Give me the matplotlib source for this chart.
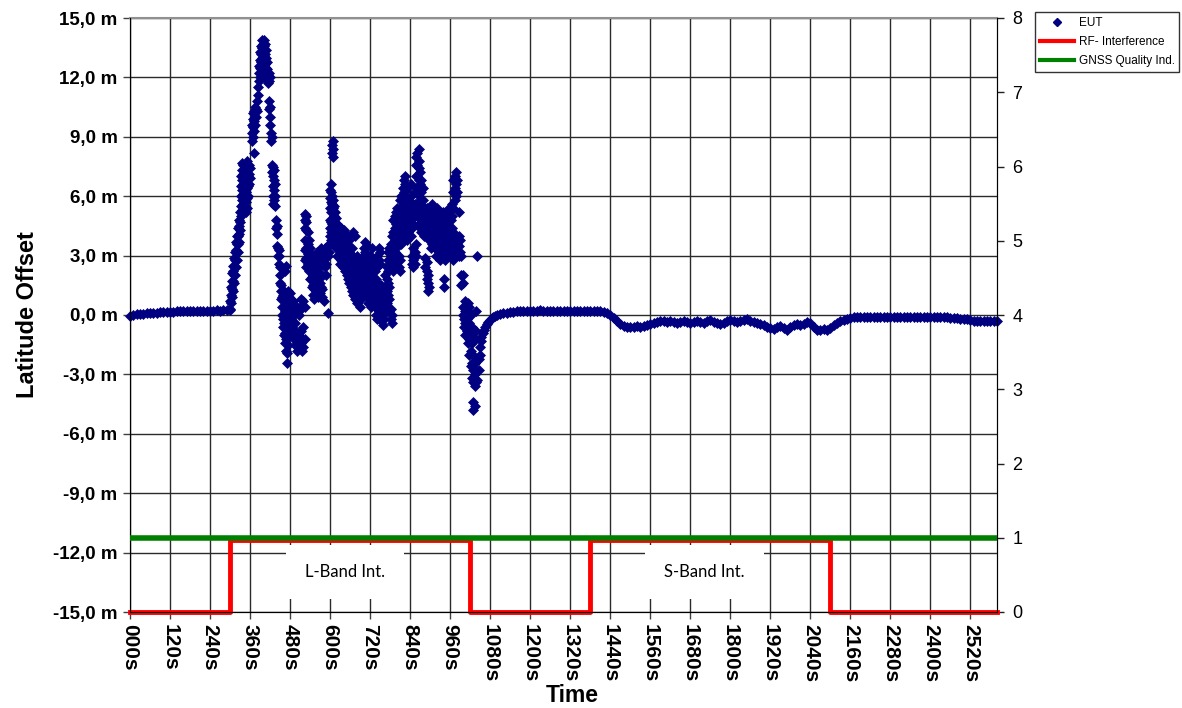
import matplotlib
matplotlib.use("Agg")
import matplotlib.pyplot as plt  # noqa: E402
from matplotlib.lines import Line2D  # noqa: E402

plt.rcParams["font.family"] = ["Liberation Sans", "DejaVu Sans"]

# ---- data ----
# quiet part before the interference (10 s sampling)
pre_time = list(range(0, 301, 10))
pre_lat = [-0.05, 0.0, 0.03, 0.05, 0.07, 0.08, 0.1, 0.1, 0.12, 0.13, 0.15,
           0.15, 0.17, 0.17, 0.18, 0.2, 0.2, 0.2, 0.22, 0.2, 0.22, 0.22,
           0.2, 0.22, 0.22, 0.22, 0.24, 0.22, 0.24, 0.24, 0.25]

# disturbed part: one list of latitude offsets per time stamp
chaos_time = [300, 303, 306, 309, 312, 315, 318, 321, 324, 327, 330, 333, 336,
              339, 342, 345, 348, 351, 354, 357, 360, 366, 369, 372, 375, 378,
              381, 384, 387, 390, 393, 396, 399, 402, 405, 408, 411, 414, 417,
              420, 423, 426, 429, 432, 435, 438, 441, 444, 447, 450, 453, 456,
              459, 462, 465, 468, 471, 474, 477, 480, 484, 488, 492, 496, 500,
              504, 508, 512, 516, 520, 524,
              525, 529, 533, 537, 541, 545, 549, 553, 557, 561, 565, 569, 573,
              577, 581, 585, 589, 593, 597,
              601, 604, 607, 610, 613, 616, 619, 622, 626, 630, 634, 638, 642,
              646, 650, 654, 658, 662, 666, 670, 674, 678, 682, 686, 690, 694,
              698, 702, 706, 710, 714, 718, 722, 726, 730, 734, 738, 742, 746,
              750, 754, 758, 762, 766, 770, 774, 778, 782, 786, 790, 794,
              798, 802, 806, 810, 814, 818, 822, 826, 830, 834, 838, 842, 846,
              850, 854, 858, 862, 866, 870, 874, 878, 882, 886, 890, 894, 898,
              902, 906, 910, 914, 918, 922, 926, 930, 934, 938, 942, 946, 950,
              954, 958, 962, 966, 970, 974, 978, 982, 986, 990, 994, 998,
              1002, 1006, 1010, 1014, 1018, 1022, 1026, 1030, 1034, 1038, 1042,
              1046, 1050, 1054, 1058, 1062, 1066, 1070, 1075, 1080, 1085, 1090,
              1095]
chaos_lat = [
    [0.3, 0.7], [0.6, 1.0, 1.4], [0.9, 1.3, 1.7, 2.1], [1.2, 1.7, 2.2, 2.5],
    [1.6, 2.0, 2.5, 2.9], [2.0, 2.4, 2.8, 3.2], [2.4, 2.8, 3.3, 3.7],
    [2.8, 3.2, 3.6, 4.0], [3.2, 3.6, 4.0, 4.4], [3.7, 4.1, 4.5, 4.8],
    [4.3, 4.7, 5.2], [5.0, 5.5, 6.0, 6.5, 7.0], [5.3, 5.8, 6.3, 6.8, 7.3, 7.7],
    [5.6, 6.1, 6.6, 7.1, 7.6], [5.8, 6.3, 6.8, 7.3], [5.5, 5.9, 6.4, 6.9],
    [5.2, 5.7, 6.2, 6.7, 7.2], [5.4, 5.9, 6.4, 6.9, 7.4, 7.8],
    [6.0, 6.5, 7.0, 7.5], [6.6, 7.1, 7.6], [6.9, 7.4],
    [8.8, 9.2, 9.6], [9.0, 9.5, 9.9, 10.2], [8.2, 9.3, 9.8, 10.3],
    [9.6, 10.0, 10.5], [10.0, 10.4], [10.3, 10.8], [11.1, 11.5],
    [11.8, 12.2, 12.6], [12.0, 12.5, 12.9, 13.3], [12.4, 12.8, 13.2, 13.6],
    [12.6, 13.0, 13.5, 13.9], [12.3, 12.8, 13.3, 13.7],
    [12.0, 12.6, 13.1, 13.6, 13.9], [12.2, 12.7, 13.2, 13.7],
    [12.5, 13.0, 13.4], [11.9, 12.4, 12.8], [11.7, 12.1],
    [11.8, 12.2, 10.8, 10.4], [12.0, 10.5, 10.0, 9.6], [9.2, 8.8],
    [7.6, 7.2, 9.0], [5.6, 6.0, 6.5, 7.0, 7.5], [5.8, 6.3, 6.8, 7.3],
    [5.5, 6.0, 6.6], [4.4, 4.8], [4.1, 4.5, 3.5], [3.0, 3.4], [2.6, 3.0, 3.3],
    [1.6, 2.0, 2.4], [0.8, 1.2, 1.5], [0.0, 0.4, 0.9], [-0.6, -0.2, 1.0],
    [-1.0, -0.4, 0.4, 1.2], [-1.4, -0.9, 0.2, 0.8, 2.2],
    [-1.8, -1.2, -0.3, 0.5, 2.5], [-2.4, -1.9, -0.6, 0.3, 1.0],
    [-1.5, -1.0, 0.0, 0.7, 1.2], [-0.8, -0.4, 0.2, 0.9], [-0.6, 0.0, 0.6, 1.1],
    [-0.2, 0.4, 0.8], [-0.9, -0.4, 0.2, 0.7], [-1.2, -0.7, 0.0, 0.5],
    [-1.5, -1.0, -0.4, 0.3], [-1.8, -1.3, 0.4], [-1.6, -1.1, 0.2], [-1.0, 0.0],
    [-1.4, -0.8, 0.3, 0.8], [-1.8, -1.2, 0.5], [-1.6, -0.6, 0.7], [-1.2, 0.4],
    [2.8, 3.3, 3.8, 4.4, 4.8, 5.1], [2.4, 2.9, 3.4, 4.3, 4.7, 5.0],
    [2.6, 3.1, 3.6, 4.2], [2.2, 2.7, 3.2, 3.8], [1.8, 2.3, 2.8, 3.4],
    [1.4, 1.9, 2.4, 3.0], [1.0, 1.5, 2.0, 2.6], [0.8, 1.3, 1.8, 2.2],
    [1.0, 1.5, 2.0, 2.4, 2.9], [1.2, 1.7, 2.3, 2.8, 3.2],
    [0.9, 1.4, 1.9, 2.6, 3.0], [1.1, 1.6, 2.1], [1.4, 1.9, 3.0, 3.4],
    [0.9, 1.3, 2.8, 3.2], [0.7, 2.6, 3.0], [2.4, 2.9, 3.4], [2.0, 2.6],
    [0.1, 3.0, 3.5], [3.2, 3.6],
    [4.0, 4.4, 4.8, 5.4, 5.9, 6.3], [3.8, 4.2, 4.7, 5.2, 5.7, 6.2, 6.6],
    [4.0, 4.6, 5.6, 6.0, 8.2, 8.6], [4.4, 4.9, 5.4, 5.8, 8.0, 8.4, 8.8],
    [3.8, 4.3, 5.0, 5.5], [3.6, 4.0, 4.6, 5.2], [3.4, 3.9, 4.4, 4.9],
    [3.0, 3.5, 4.2, 4.6], [3.0, 3.6, 4.1, 4.5], [2.6, 3.1, 3.7, 4.2],
    [2.8, 3.4, 3.9, 4.4], [2.4, 3.0, 3.5, 4.0], [2.6, 3.2, 3.8, 4.3],
    [2.2, 2.8, 3.4, 3.9], [2.0, 2.6, 3.2, 3.6], [1.8, 2.3, 2.9, 3.4, 4.0],
    [1.6, 2.2, 2.7, 3.2, 3.8], [1.4, 2.0, 2.5, 3.0], [1.2, 1.8, 2.3, 2.8, 3.4],
    [1.0, 1.6, 2.2, 3.0, 4.2], [0.8, 1.4, 2.0, 2.6, 4.0], [1.0, 1.6, 2.2, 2.8],
    [0.6, 1.2, 1.8, 2.4, 3.0], [0.8, 1.4, 2.0, 2.6], [0.4, 1.0, 1.6, 2.2],
    [0.8, 1.3, 1.9, 2.5], [1.2, 1.8, 2.4, 3.0], [1.6, 2.2, 2.8, 3.4],
    [1.4, 2.0, 2.6, 3.2, 3.7], [1.0, 1.6, 2.2, 2.8, 3.5],
    [0.6, 1.2, 1.8, 2.4, 3.0], [0.8, 1.4, 2.0, 2.6], [0.4, 1.0, 1.6, 2.2, 3.0],
    [0.6, 1.2, 1.8, 2.4, 3.4], [1.0, 1.6, 2.2, 2.8], [0.4, 1.0, 1.6, 2.2],
    [0.0, 0.6, 1.2, 1.8, 2.6], [-0.2, 0.4, 1.0, 1.6, 2.4, 3.0],
    [0.2, 0.8, 1.4, 2.8, 3.4], [0.0, 0.6, 1.2, 2.6, 3.2],
    [-0.3, 0.3, 0.9, 1.5], [-0.5, 0.0, 0.6, 1.2], [-0.2, 0.4, 1.0],
    [0.2, 0.8, 1.4, 2.0], [0.6, 1.2, 1.8, 2.4], [1.0, 1.6, 2.2, 2.8, 3.2],
    [0.2, 0.8, 1.4, 2.6, 3.4], [-0.2, 0.3, 2.4, 3.0, 3.6],
    [-0.4, 0.0, 2.8, 3.4, 4.0], [2.2, 2.8, 3.6, 4.2, 4.8],
    [2.6, 3.2, 3.8, 4.4, 5.0],
    [2.8, 3.4, 4.0, 4.6, 5.2], [3.0, 3.6, 4.2, 4.8, 5.4],
    [2.4, 3.0, 3.8, 4.4, 5.0], [2.2, 2.8, 4.0, 4.6, 5.2, 5.8],
    [3.6, 4.2, 4.8, 5.4, 6.0], [4.0, 4.6, 5.2, 5.8, 6.4],
    [4.4, 5.0, 5.6, 6.2, 6.8], [4.2, 4.8, 5.4, 6.0, 6.6, 7.0],
    [3.8, 4.4, 5.0, 5.6], [4.2, 4.8, 5.4, 6.4], [4.6, 5.2, 5.8],
    [4.0, 4.6, 5.2, 6.0, 6.6], [2.6, 3.0, 4.4, 5.0, 5.6],
    [2.4, 2.8, 3.4, 4.6, 5.2], [2.6, 3.2, 5.0, 5.6, 6.2],
    [3.0, 3.6, 5.4, 6.2, 7.0, 7.6, 8.0], [5.0, 5.6, 6.4, 7.0, 7.6, 8.2],
    [4.6, 5.2, 6.0, 6.8, 7.4, 7.8, 8.4], [4.4, 5.0, 5.8, 6.6, 7.2],
    [4.2, 4.8, 5.4, 6.2, 6.8], [4.6, 5.2, 5.8, 6.4], [4.0, 4.6, 5.2],
    [2.4, 2.9, 4.4, 5.0, 5.4], [1.8, 2.2, 2.7, 4.8, 5.4],
    [1.2, 1.6, 2.0, 4.2, 4.8, 5.2], [1.4, 3.8, 4.4, 5.0],
    [3.4, 4.0, 4.6, 5.4], [3.6, 4.2, 4.8, 5.6], [4.0, 4.6, 5.2],
    [3.4, 3.9, 4.4, 5.0], [3.0, 3.6, 4.2, 4.8], [3.6, 4.2, 4.8, 5.4],
    [3.2, 3.8, 4.4, 5.0], [2.8, 3.4, 4.0, 4.6], [3.0, 3.6, 4.2, 5.0],
    [3.4, 4.0, 4.6, 5.2], [1.4, 1.8, 3.2, 3.8, 4.4], [2.8, 3.4, 4.0, 4.8],
    [3.0, 3.6, 4.2, 5.0], [3.2, 3.8, 4.4, 5.2], [3.6, 4.2, 4.8, 5.4],
    [3.0, 3.6, 4.2, 4.8], [3.2, 3.8, 4.4, 5.0, 5.6],
    [2.8, 3.4, 4.2, 5.4, 6.2, 6.8], [3.0, 3.6, 4.0, 5.8, 6.4, 7.0],
    [3.0, 3.4, 6.0, 6.6, 7.2], [3.2, 3.6, 6.2, 6.8], [3.0, 3.5, 4.0, 5.2],
    [3.2, 3.8], [1.5, 2.0, 3.0], [1.6, 2.0, 0.4, 0.0],
    [-0.6, -0.2, 0.4], [-1.0, -0.4, 0.2, 0.7], [-0.8, -0.2],
    [-1.4, -0.8, 0.2, 0.6], [-2.0, -1.2, -0.4, 0.4], [-2.6, -1.8, -1.0, 0.0],
    [-3.2, -2.4, -1.4, -0.6], [-4.8, -4.4, -3.4, -2.8, -2.0],
    [-4.6, -3.6, -3.0, -2.4, -1.2], [-3.4, -2.8, -0.8, 0.2],
    [-3.3, -2.2, 3.0], [-2.8, -2.2], [-2.0, -1.6], [-1.3, -1.1], [-0.9],
    [-0.75], [-0.6], [-0.45], [-0.35], [-0.25], [-0.15], [-0.1], [-0.05],
]

# settled part after the L-band interference (10 s sampling)
post_time = list(range(1100, 2601, 10))
post_lat = [0.0, 0.05, 0.1, 0.12, 0.15, 0.17, 0.18, 0.2, 0.2, 0.22,
            0.22, 0.2, 0.22, 0.24, 0.22, 0.2, 0.22, 0.22, 0.2, 0.2,
            0.22, 0.2, 0.22, 0.2, 0.18, 0.2, 0.22, 0.2, 0.2, 0.18,
            0.2, 0.18, 0.15, 0.1, 0.0, -0.15, -0.3, -0.45, -0.55, -0.6,
            -0.6, -0.6, -0.55, -0.6, -0.55, -0.5, -0.45, -0.4, -0.35, -0.3,
            -0.3, -0.35, -0.3, -0.35, -0.4, -0.35, -0.3, -0.35, -0.4, -0.35,
            -0.3, -0.35, -0.4, -0.3, -0.25, -0.35, -0.4, -0.45, -0.4, -0.3,
            -0.25, -0.3, -0.35, -0.3, -0.25, -0.2, -0.3, -0.35, -0.4, -0.45,
            -0.5, -0.6, -0.65, -0.7, -0.6, -0.55, -0.65, -0.75, -0.6, -0.5,
            -0.45, -0.5, -0.45, -0.35, -0.4, -0.6, -0.75, -0.75, -0.7, -0.75,
            -0.65, -0.5, -0.4, -0.3, -0.25, -0.2, -0.15, -0.12, -0.12, -0.12,
            -0.12, -0.12, -0.12, -0.12, -0.12, -0.12, -0.12, -0.12, -0.12, -0.12,
            -0.12, -0.12, -0.12, -0.12, -0.12, -0.12, -0.12, -0.12, -0.12, -0.12,
            -0.12, -0.12, -0.12, -0.12, -0.12, -0.12, -0.14, -0.15, -0.15, -0.18,
            -0.2, -0.22, -0.25, -0.28, -0.3, -0.3, -0.3, -0.3, -0.3, -0.3,
            -0.3]

# RF interference on/off (right axis)
rf_time = [0, 300, 300, 1020, 1020, 1380, 1380, 2100, 2100, 2600]
rf_level = [0, 0, 0.965, 0.965, 0, 0, 0.965, 0.965, 0, 0]

# GNSS quality indicator (right axis)
gnss_time = [0, 2600]
gnss_level = [1, 1]

time_ticks = list(range(0, 2521, 120))
lat_ticks = [-15, -12, -9, -6, -3, 0, 3, 6, 9, 12, 15]

# flatten EUT series
eut_time = list(pre_time)
eut_lat = list(pre_lat)
for t, vals in zip(chaos_time, chaos_lat):
    eut_time += [t] * len(vals)
    eut_lat += vals
eut_time += post_time
eut_lat += post_lat

NAVY = "#000080"
RED = "#FF0000"
GREEN = "#008000"

fig = plt.figure(figsize=(11.82, 7.08), dpi=100)
ax = fig.add_axes([130 / 1182, 1 - 612 / 708, 867 / 1182, 594 / 708])
ax2 = ax.twinx()

ax.plot(eut_time, eut_lat, linestyle="none", marker="D", ms=5.2,
        color=NAVY, mec=NAVY, mew=0.5, zorder=3, clip_on=False)

ax.set_xlim(0, 2600)
ax.set_ylim(-15, 15)
ax.set_xticks(time_ticks)
ax.set_xticklabels([f"{t:03d}s" for t in time_ticks], rotation=270,
                   fontsize=15, fontweight="bold", va="top", ha="center")
ax.set_yticks(lat_ticks)
ax.set_yticklabels([f"{v:.1f} m".replace(".", ",") for v in lat_ticks],
                   fontsize=13.5, fontweight="bold")
ax.tick_params(axis="both", direction="out", length=5, width=1,
               color="#404040", pad=4)
ax.grid(True, color="#2a2a2a", linewidth=1.0)
ax.set_axisbelow(True)

for side in ("left", "bottom", "right"):
    ax.spines[side].set_color("#202020")
ax.spines["top"].set_color("#909090")
ax.spines["top"].set_linewidth(1.5)

ax.set_ylabel("Latitude Offset", fontsize=17, fontweight="bold", labelpad=10)
ax.set_xlabel("Time", fontsize=16.5, fontweight="bold")
ax.xaxis.set_label_coords(0.51, -0.122)

ax2.set_ylim(0, 8)
ax2.set_yticks(range(0, 9))
ax2.tick_params(axis="y", direction="out", length=5, width=1,
                labelsize=13, color="#202020", pad=6)
ax2.spines["top"].set_visible(False)

ax2.plot(rf_time, rf_level, color=RED, linewidth=3.5, clip_on=False, zorder=2)
ax2.plot(gnss_time, gnss_level, color=GREEN, linewidth=4, zorder=3)

box = dict(boxstyle="square,pad=1.15", fc="white", ec="none")
ax2.text(645, 0.54, "L-Band Int.", ha="center", va="center", fontsize=12,
         family="Lato", bbox=box, zorder=1)
ax2.text(1722, 0.54, "S-Band Int.", ha="center", va="center", fontsize=12,
         family="Lato", bbox=box, zorder=1)

handles = [
    Line2D([], [], linestyle="none", marker="D", ms=4, color=NAVY),
    Line2D([], [], color=RED, linewidth=3),
    Line2D([], [], color=GREEN, linewidth=3),
]
leg = fig.legend(handles, ["EUT", "RF- Interference", "GNSS Quality Ind."],
                 loc="upper left", bbox_to_anchor=(1035 / 1182, 1 - 12 / 708),
                 fontsize=8.5, handlelength=2.9, frameon=True, fancybox=False,
                 borderaxespad=0, borderpad=0.4, labelspacing=0.62,
                 handletextpad=0.4)
leg.get_frame().set_edgecolor("black")
leg.get_frame().set_linewidth(1)

fig.savefig("out.png", dpi=100)
